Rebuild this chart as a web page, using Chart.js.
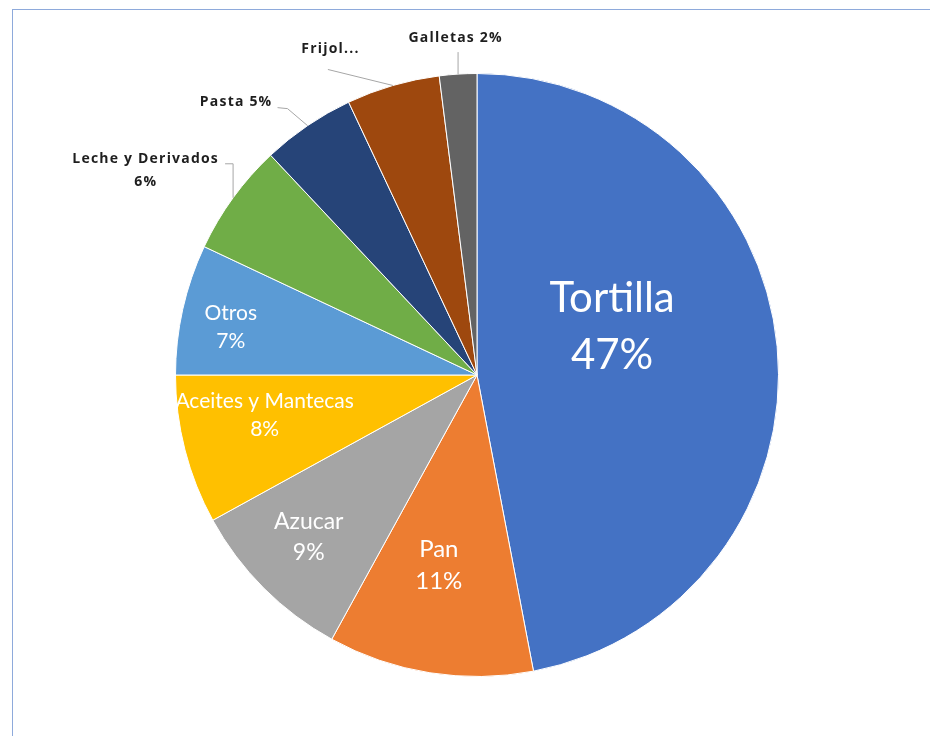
<!DOCTYPE html>
<html>
<head>
<meta charset="utf-8">
<script src="https://cdn.jsdelivr.net/npm/chart.js@4"></script>
<style>
  html, body { margin: 0; padding: 0; background: #fff; }
  #wrap { position: relative; width: 930px; height: 736px; overflow: hidden; }
  #frame { position: absolute; left: 12px; top: 9px; width: 1000px; height: 800px;
           border-top: 1.5px solid #8eaadb; border-left: 1.5px solid #8eaadb; }
  canvas { position: absolute; left: 0; top: 0; }
</style>
</head>
<body>
<div id="wrap">
  <div id="frame"></div>
  <canvas id="chart" width="930" height="736"></canvas>
</div>
<script>
// datos
const categorias = ["Tortilla", "Pan", "Azucar", "Aceites y Mantecas", "Otros",
                    "Leche y Derivados", "Pasta", "Frijol", "Galletas"];
const valores = [47, 11, 9, 8, 7, 6, 5, 5, 2];
const colores = ["#4472c4", "#ed7d31", "#a5a5a5", "#ffc000", "#5b9bd5",
                 "#70ad47", "#264478", "#9e480e", "#636363"];

// estilo de etiquetas (dentro / fuera del pastel)
const estilos = [
  { pos: "in", f: 0.45, dx: 0, dy: -35, size: 42, gap: 57 },
  { pos: "in", f: 0.64, dx: -8, dy: 0, size: 24, gap: 32 },
  { pos: "in", f: 0.78, dx: -2, dy: -4, size: 23, gap: 31 },
  { pos: "in", f: 0.71, dx: -5, dy: -13, size: 21, gap: 28 },
  { pos: "in", f: 0.83, dx: -2, dy: 7, size: 21, gap: 28 },
  { pos: "out", dx: -88, dy: -27, lines: 2, leader: [[-8, -34], [0, -34]] },
  { pos: "out", dx: -72, dy: -24, lines: 1, leader: [[-30, -18], [-20, -17]] },
  { pos: "out", dx: -63, dy: -36, lines: 1, trunc: true, leader: [[-65, -16]] },
  { pos: "out", dx: -3, dy: -36, lines: 1, leader: [[0, -22]] }
];

const total = valores.reduce((a, b) => a + b, 0);

const etiquetas = {
  id: "etiquetas",
  afterDatasetsDraw(chart) {
    const ctx = chart.ctx;
    const arcs = chart.getDatasetMeta(0).data;
    arcs.forEach((arc, i) => {
      const st = estilos[i];
      const mid = (arc.startAngle + arc.endAngle) / 2;
      const cx = Math.cos(mid), cy = Math.sin(mid);
      const pct = Math.round(valores[i] / total * 100) + "%";
      ctx.save();
      ctx.textAlign = "center";
      ctx.textBaseline = "middle";
      if (st.pos === "in") {
        const x = arc.x + cx * arc.outerRadius * st.f + st.dx;
        const y = arc.y + cy * arc.outerRadius * st.f + st.dy;
        ctx.fillStyle = "#ffffff";
        ctx.font = st.size + "px Lato, 'Open Sans', sans-serif";
        ctx.fillText(categorias[i], x, y - st.gap / 2);
        ctx.fillText(pct, x, y + st.gap / 2);
      } else {
        const ex = arc.x + cx * arc.outerRadius;
        const ey = arc.y + cy * arc.outerRadius;
        // linea guia
        ctx.strokeStyle = "#a6a6a6";
        ctx.lineWidth = 1;
        ctx.beginPath();
        st.leader.forEach((p, k) => {
          if (k === 0) ctx.moveTo(ex + p[0], ey + p[1]);
          else ctx.lineTo(ex + p[0], ey + p[1]);
        });
        ctx.lineTo(ex, ey);
        ctx.stroke();
        ctx.fillStyle = "#1e1e1e";
        ctx.font = "bold 14px 'Open Sans', Lato, sans-serif";
        ctx.letterSpacing = "1.2px";
        const x = ex + st.dx + 0.6, y = ey + st.dy;
        if (st.trunc) {
          ctx.fillText(categorias[i] + "...", x, y);
        } else if (st.lines === 2) {
          ctx.fillText(categorias[i], x, y - 11.5);
          ctx.fillText(pct, x, y + 11.5);
        } else {
          ctx.fillText(categorias[i] + " " + pct, x, y);
        }
      }
      ctx.restore();
    });
  }
};

const config = {
  type: "pie",
  data: {
    labels: categorias,
    datasets: [{
      data: valores,
      backgroundColor: colores,
      borderColor: "#ffffff",
      borderWidth: 1
    }]
  },
  options: {
    responsive: false,
    animation: false,
    layout: { padding: { left: 175, right: 151, top: 73, bottom: 59 } },
    plugins: {
      legend: { display: false },
      tooltip: { enabled: false }
    }
  },
  plugins: [etiquetas]
};

new Chart(document.getElementById("chart").getContext("2d"), config);
</script>
</body>
</html>
